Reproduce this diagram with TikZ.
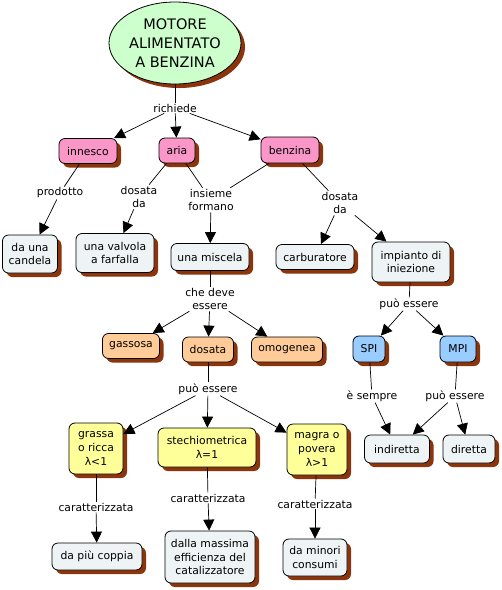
\documentclass[tikz,border=0pt]{standalone}
\usepackage{fontspec}
\setmainfont{DejaVu Sans}
\usetikzlibrary{shapes.geometric,shadows,arrows.meta}
\definecolor{shad}{RGB}{140,52,12}
\definecolor{greenc}{RGB}{204,255,204}
\definecolor{pinkc}{RGB}{250,150,200}
\definecolor{lightc}{RGB}{238,244,245}
\definecolor{bluec}{RGB}{153,204,255}
\definecolor{peachc}{RGB}{255,204,153}
\definecolor{yellowc}{RGB}{255,255,153}
\begin{document}
\begin{tikzpicture}[x=1pt,y=-1pt,font=\fontsize{10.8}{13.8}\selectfont,
  box/.style={draw=black,line width=0.8pt,rounded corners=6pt,align=center,inner sep=2pt,
    drop shadow={shadow xshift=4pt,shadow yshift=-4pt,fill=shad,opacity=1}},
  light/.style={box,fill=lightc},
  pink/.style={box,fill=pinkc},
  blue/.style={box,fill=bluec},
  peach/.style={box,fill=peachc},
  yell/.style={box,fill=yellowc},
  lbl/.style={fill=white,inner sep=1pt,align=center},
  ln/.style={line width=0.7pt},
  arr/.style={line width=0.7pt,-{Triangle[length=11pt,width=11pt]}}]
\useasboundingbox[fill=white] (0,0) rectangle (502,590);

\node[ellipse,draw=black,line width=0.8pt,fill=greenc,minimum width=132pt,minimum height=82pt,inner sep=0pt,align=center,
  font=\fontsize{14.5}{19}\selectfont,
  drop shadow={shadow xshift=4pt,shadow yshift=-4pt,fill=shad,opacity=1}] (title) at (175,43) {MOTORE\\ALIMENTATO\\A BENZINA};

\node[lbl] (richiede) at (175,108) {richiede};
\node[pink,minimum width=58pt,minimum height=25pt] (innesco) at (88,151) {innesco};
\node[pink,minimum width=36pt,minimum height=25pt] (aria) at (177,150.5) {aria};
\node[pink,minimum width=58pt,minimum height=26pt] (benzina) at (290,150) {benzina};

\node[lbl] (prodotto) at (60,193) {prodotto};
\node[light,minimum width=55pt,minimum height=38pt] (candela) at (30,254) {da una\\candela};
\node[lbl] (dosata1) at (139,197) {dosata\\da};
\node[light,minimum width=78pt,minimum height=39pt] (valvola) at (115,253) {una valvola\\a farfalla};
\node[lbl] (insieme) at (211,200) {insieme\\formano};
\node[light,minimum width=78pt,minimum height=27pt] (miscela) at (210,257) {una miscela};
\node[lbl] (dosata2) at (340,203) {dosata\\da};
\node[light,minimum width=78pt,minimum height=25pt] (carbur) at (315,257) {carburatore};
\node[light,minimum width=78pt,minimum height=40pt] (impianto) at (411,262) {impianto di\\iniezione};

\node[lbl] (puo1) at (409,304) {può essere};
\node[blue,minimum width=32pt,minimum height=26pt] (spi) at (369,349) {SPI};
\node[blue,minimum width=36pt,minimum height=26pt] (mpi) at (458,349) {MPI};
\node[lbl] (sempre) at (372,396) {è sempre};
\node[lbl] (puo2) at (455,396) {può essere};
\node[light,minimum width=65pt,minimum height=28pt] (indiretta) at (397,449) {indiretta};
\node[light,minimum width=52pt,minimum height=28pt] (diretta) at (469,449) {diretta};

\node[lbl] (chedeve) at (210,299) {che deve\\essere};
\node[peach,minimum width=57pt,minimum height=25pt] (gassosa) at (131,346) {gassosa};
\node[peach,minimum width=51pt,minimum height=25pt] (dosata) at (208,349.5) {dosata};
\node[peach,minimum width=71pt,minimum height=25pt] (omogenea) at (287,349.5) {omogenea};

\node[lbl] (puo3) at (208,389) {può essere};
\node[yell,minimum width=54pt,minimum height=51pt] (grassa) at (96,448.5) {grassa\\o ricca\\λ<1};
\node[yell,minimum width=98pt,minimum height=39pt] (stech) at (207,447.5) {stechiometrica\\λ=1};
\node[yell,minimum width=60pt,minimum height=51pt] (magra) at (317,449.5) {magra o\\povera\\λ>1};

\node[lbl] (car1) at (96,507) {caratterizzata};
\node[lbl] (car2) at (208,498) {caratterizzata};
\node[lbl] (car3) at (315,504) {caratterizzata};
\node[light,minimum width=90pt,minimum height=27pt] (coppia) at (97,556.5) {da più coppia};
\node[light,minimum width=90pt,minimum height=52pt] (massima) at (210,557) {dalla massima\\efficienza del\\catalizzatore};
\node[light,minimum width=64pt,minimum height=37pt] (consumi) at (315,557.5) {da minori\\consumi};

% connectors
\draw[ln] (title) -- (richiede);
\draw[arr] (richiede) -- (innesco);
\draw[arr] (richiede) -- (aria);
\draw[arr] (richiede) -- (benzina);

\draw[ln] (innesco) -- (prodotto);
\draw[arr] (prodotto) -- (candela);
\draw[ln] (aria) -- (dosata1);
\draw[arr] (dosata1) -- (valvola);
\draw[ln] (aria) -- (insieme);
\draw[ln] (benzina) -- (insieme);
\draw[arr] (insieme) -- (miscela);
\draw[ln] (benzina) -- (dosata2);
\draw[arr] (dosata2) -- (carbur);
\draw[arr] (dosata2) -- (impianto);

\draw[ln] (impianto) -- (puo1);
\draw[arr] (puo1) -- (spi);
\draw[arr] (puo1) -- (mpi);
\draw[ln] (spi) -- (sempre);
\draw[arr] (sempre) -- (indiretta);
\draw[ln] (mpi) -- (puo2);
\draw[arr] (puo2) -- (indiretta);
\draw[arr] (puo2) -- (diretta);

\draw[ln] (miscela) -- (chedeve);
\draw[arr] (chedeve) -- (gassosa);
\draw[arr] (chedeve) -- (dosata);
\draw[arr] (chedeve) -- (omogenea);

\draw[ln] (dosata) -- (puo3);
\draw[arr] (puo3) -- (grassa);
\draw[arr] (puo3) -- (stech);
\draw[arr] (puo3) -- (magra);

\draw[ln] (grassa) -- (car1);
\draw[arr] (car1) -- (coppia);
\draw[ln] (stech) -- (car2);
\draw[arr] (car2) -- (massima);
\draw[ln] (magra) -- (car3);
\draw[arr] (car3) -- (consumi);
\end{tikzpicture}
\end{document}
